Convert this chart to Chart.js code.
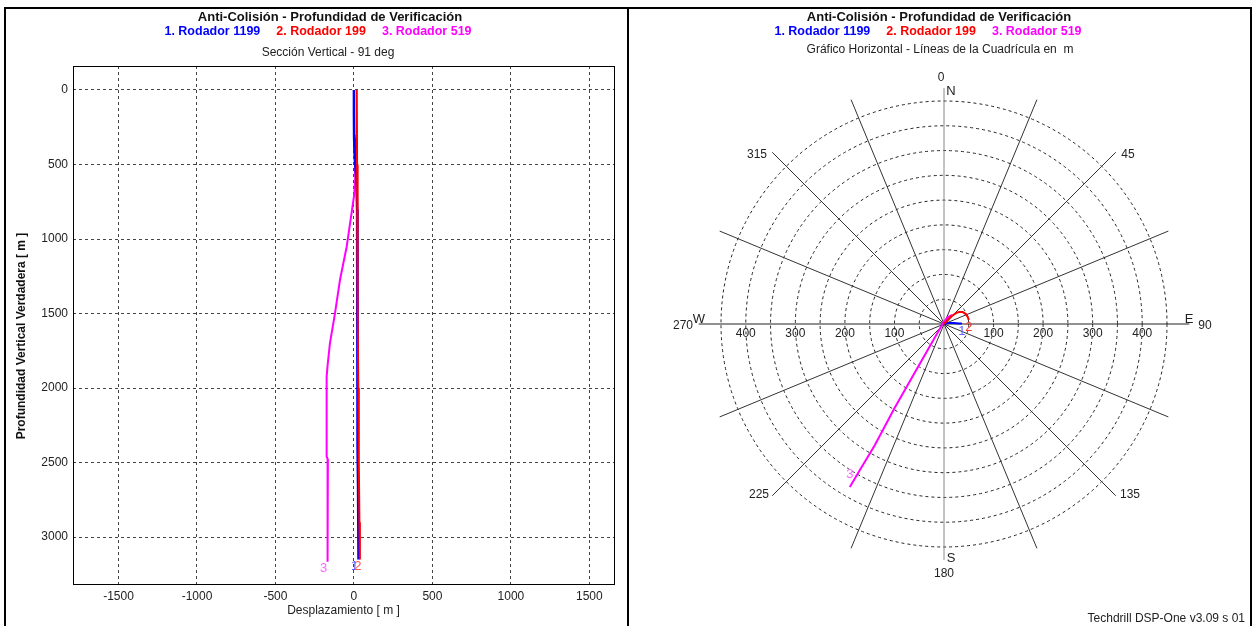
<!DOCTYPE html>
<html>
<head>
<meta charset="utf-8">
<script src="https://cdn.jsdelivr.net/npm/chart.js@4.4.0/dist/chart.umd.min.js"></script>
<style>
  body { margin: 0; background: #fff; width: 1253px; height: 626px; overflow: hidden; position: relative; font-family: "Liberation Sans", Arial, sans-serif; }
  .frame { position: absolute; left: 4px; top: 7px; width: 1248px; height: 640px; border: 2px solid #000; box-sizing: border-box; }
  .divider { position: absolute; left: 627px; top: 7px; width: 2px; height: 640px; background: #000; }
  canvas { position: absolute; top: 0; }
  .txt { position: absolute; white-space: nowrap; transform: translateX(-50%); line-height: 1; }
  .title { font-weight: bold; font-size: 13px; color: #111; }
  .legend { font-weight: bold; font-size: 12.5px; }
  .legend span { margin: 0 8px; }
  .sub { font-size: 12px; color: #222; }
  .foot { position: absolute; right: 8px; top: 612px; font-size: 12px; color: #222; line-height: 1; }
</style>
</head>
<body>
<div class="frame"></div>
<div class="divider"></div>
<canvas id="seccion" width="629" height="626" style="left:0"></canvas>
<canvas id="planta" width="624" height="626" style="left:629px"></canvas>

<div class="txt title" style="left:330px; top:10px">Anti-Colisión - Profundidad de Verificación</div>
<div class="txt legend" style="left:318px; top:25px"><span style="color:#0000ff">1. Rodador 1199</span><span style="color:#ff0000">2. Rodador 199</span><span style="color:#ff00ff">3. Rodador 519</span></div>
<div class="txt sub" style="left:328px; top:46px">Sección Vertical - 91 deg</div>

<div class="txt title" style="left:939px; top:10px">Anti-Colisión - Profundidad de Verificación</div>
<div class="txt legend" style="left:928px; top:25px"><span style="color:#0000ff">1. Rodador 1199</span><span style="color:#ff0000">2. Rodador 199</span><span style="color:#ff00ff">3. Rodador 519</span></div>
<div class="txt sub" style="left:940px; top:43px">Gráfico Horizontal - Líneas de la Cuadrícula en &nbsp;m</div>
<div class="foot">Techdrill DSP-One v3.09 s 01</div>

<script>
// Sección vertical: desplazamiento (m) a 91 deg contra profundidad vertical (m)
const tvd1199 = [0, 150, 320, 420, 520, 600, 800, 1000, 1300, 1600, 2000, 2400, 2650, 2900, 3150];
const vs1199 = [0, 0, 1, 4, 10, 16, 20, 21, 22, 23, 24, 25, 26, 28, 30];
const tvd199 = [0, 500, 1000, 1500, 2000, 2500, 2900, 3150];
const vs199 = [18, 20, 22, 25, 28, 31, 35, 38];
const tvd519 = [0, 300, 500, 600, 700, 825, 1050, 1275, 1500, 1700, 1850, 1925, 2200, 2460, 2480, 2800, 3165];
const vs519 = [0, 2, 6, 8, 2, -15, -46, -89, -121, -153, -168, -174, -174, -174, -166, -168, -168];

// Gráfico horizontal: Este / Norte (m)
const este1199 = [0, 3, 10, 20, 30, 36];
const norte1199 = [0, 1, 2, 2, 1, 1];
const este199 = [0, 8, 16, 24, 30, 38, 44, 48, 50];
const norte199 = [0, 8, 16, 22, 24, 24, 20, 14, 8];
const este519 = [0, 5, 10, 12, 8, 0, -20, -60, -100, -140, -170, -190];
const norte519 = [0, 5, 12, 16, 14, 5, -30, -100, -170, -245, -295, -329];

// ticks y rejilla
const xTicks = [-1500, -1000, -500, 0, 500, 1000, 1500];
const yTicks = [0, 500, 1000, 1500, 2000, 2500, 3000];
const anillos = [50, 100, 150, 200, 250, 300, 350, 400, 450];
const etiquetasAnillo = [100, 200, 300, 400];
const rumbos = [0, 22.5, 45, 67.5, 90, 112.5, 135, 157.5, 180, 202.5, 225, 247.5, 270, 292.5, 315, 337.5];

const FUENTE = '"Liberation Sans", Arial, sans-serif';

var serie = (xs, ys, color, ancho) => {
  let data = [];
  for (let i = 0; i < xs.length; i++) {
    data.push({ x: xs[i], y: ys[i] });
  }
  return { data: data, showLine: true, borderColor: color, borderWidth: ancho, pointRadius: 0, tension: 0, fill: false };
}

// etiqueta al final de cada pozo (1, 2, 3)
var dibujarNumeros = (chart, marcas) => {
  let ctx = chart.ctx;
  ctx.save();
  ctx.font = '13px ' + FUENTE;
  ctx.textAlign = 'center';
  ctx.textBaseline = 'middle';
  marcas.forEach(m => {
    let pts = chart.getDatasetMeta(m.ds).data;
    let p = pts[pts.length - 1];
    ctx.fillStyle = m.color;
    ctx.fillText(m.texto, p.x + m.dx, p.y + m.dy);
  });
  ctx.restore();
}

const marcoSeccion = {
  id: 'marcoSeccion',
  afterDraw(chart) {
    let ctx = chart.ctx;
    let a = chart.chartArea;
    ctx.save();
    ctx.strokeStyle = '#000';
    ctx.lineWidth = 1;
    ctx.strokeRect(Math.round(a.left) + 0.5, Math.round(a.top) + 0.5, Math.round(a.right - a.left), Math.round(a.bottom - a.top));
    // titulo eje vertical
    ctx.fillStyle = '#111';
    ctx.font = 'bold 12px ' + FUENTE;
    ctx.textAlign = 'center';
    ctx.textBaseline = 'middle';
    ctx.translate(22, 336);
    ctx.rotate(-Math.PI / 2);
    ctx.fillText('Profundidad Vertical Verdadera [ m ]', 0, 0);
    ctx.restore();
    dibujarNumeros(chart, [
      { ds: 2, texto: '3', color: '#ff66ff', dx: -4, dy: 7 },
      { ds: 1, texto: '1', color: '#5555ff', dx: -4, dy: 7 },
      { ds: 0, texto: '2', color: '#ff5555', dx: -2, dy: 7 }
    ]);
  }
};

const rejillaPlanta = {
  id: 'rejillaPlanta',
  beforeDatasetsDraw(chart) {
    let ctx = chart.ctx;
    let sx = chart.scales.x, sy = chart.scales.y;
    let cx = sx.getPixelForValue(0), cy = sy.getPixelForValue(0);
    let k = sx.getPixelForValue(100) - cx;  // px por 100 m
    ctx.save();
    // anillos punteados
    ctx.strokeStyle = '#222';
    ctx.lineWidth = 1;
    ctx.setLineDash([3, 3]);
    anillos.forEach(r => {
      ctx.beginPath();
      ctx.arc(cx, cy, r * k / 100, 0, Math.PI * 2);
      ctx.stroke();
    });
    ctx.setLineDash([]);
    // rayos cada 22.5 grados
    rumbos.forEach(az => {
      let largo = 490;
      let color = '#333';
      if (az == 0 || az == 180) { largo = 476; color = '#888'; }
      if (az == 90 || az == 270) { largo = 495; color = '#222'; }
      let t = az * Math.PI / 180;
      ctx.strokeStyle = color;
      ctx.beginPath();
      ctx.moveTo(cx, cy);
      ctx.lineTo(cx + Math.sin(t) * largo * k / 100, cy - Math.cos(t) * largo * k / 100);
      ctx.stroke();
    });
    // etiquetas de anillos
    ctx.fillStyle = '#222';
    ctx.font = '12px ' + FUENTE;
    ctx.textAlign = 'center';
    ctx.textBaseline = 'middle';
    etiquetasAnillo.forEach(v => {
      ctx.fillText(String(v), sx.getPixelForValue(-v), cy + 10);
      ctx.fillText(String(v), sx.getPixelForValue(v), cy + 10);
    });
    // rumbos y puntos cardinales
    let rotulos = [
      ['0', -3, -246], ['45', 184, -169], ['90', 261, 2], ['135', 186, 171],
      ['180', 0, 250], ['225', -185, 171], ['270', -261, 2], ['315', -187, -169],
      ['N', 7, -233], ['E', 245, -5], ['S', 7, 234], ['W', -245, -5]
    ];
    rotulos.forEach(r => {
      ctx.font = (isNaN(r[0]) ? '13px ' : '12px ') + FUENTE;
      ctx.fillText(r[0], cx + r[1], cy + r[2]);
    });
    ctx.restore();
  },
  afterDatasetsDraw(chart) {
    dibujarNumeros(chart, [
      { ds: 2, texto: '3', color: '#ff66ff', dx: 0, dy: -13 },
      { ds: 1, texto: '1', color: '#6666ff', dx: 0, dy: 8 },
      { ds: 0, texto: '2', color: '#ff3333', dx: 0, dy: 7 }
    ]);
  }
};

const seccion = new Chart(document.getElementById('seccion'), {
  type: 'scatter',
  data: {
    datasets: [
      serie(vs199, tvd199, '#ff0000', 2),
      serie(vs1199, tvd1199, '#0000ff', 2.5),
      serie(vs519, tvd519, '#ff00ff', 2)
    ]
  },
  options: {
    responsive: false,
    animation: false,
    layout: { padding: { left: 0, top: 66, right: 15, bottom: 0 } },
    plugins: { legend: { display: false }, tooltip: { enabled: false } },
    scales: {
      x: {
        type: 'linear', min: -1790, max: 1657,
        afterBuildTicks: s => { s.ticks = xTicks.map(v => ({ value: v })); },
        afterFit: s => { s.height = 42; },
        grid: { color: '#444', lineWidth: 1, drawTicks: false },
        border: { display: false, dash: [3, 3] },
        ticks: { padding: 5, color: '#222', autoSkip: false, maxRotation: 0, font: { size: 12, family: FUENTE }, callback: v => String(v) },
        title: { display: true, text: 'Desplazamiento [ m ]', color: '#222', font: { size: 12, family: FUENTE }, padding: { top: 0, bottom: 8 } }
      },
      y: {
        type: 'linear', reverse: true, min: -161, max: 3315,
        afterBuildTicks: s => { s.ticks = yTicks.map(v => ({ value: v })); },
        afterFit: s => { s.width = 73; },
        grid: { color: '#444', lineWidth: 1, drawTicks: false },
        border: { display: false, dash: [3, 3] },
        ticks: { padding: 5, color: '#222', autoSkip: false, font: { size: 12, family: FUENTE }, callback: v => String(v) }
      }
    }
  },
  plugins: [marcoSeccion]
});

const planta = new Chart(document.getElementById('planta'), {
  type: 'scatter',
  data: {
    datasets: [
      serie(este199, norte199, '#ff0000', 2),
      serie(este1199, norte1199, '#0000ff', 2),
      serie(este519, norte519, '#ff00ff', 2)
    ]
  },
  options: {
    responsive: false,
    animation: false,
    layout: { padding: { left: 47.4, right: 41.4, top: 56.4, bottom: 34.4 } },
    plugins: { legend: { display: false }, tooltip: { enabled: false } },
    scales: {
      x: { type: 'linear', display: false, min: -540, max: 540 },
      y: { type: 'linear', display: false, min: -540, max: 540 }
    }
  },
  plugins: [rejillaPlanta]
});
</script>
</body>
</html>
